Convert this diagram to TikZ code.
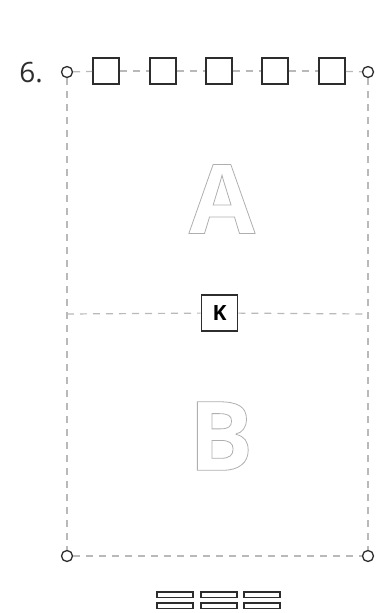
\documentclass[tikz,border=0pt]{standalone}
\usepackage{fontspec}
\setmainfont{Open Sans}
\definecolor{linegray}{RGB}{185,185,185}
\definecolor{boxdark}{RGB}{45,45,45}
\definecolor{lettergray}{RGB}{175,175,175}
\tikzset{
    seat/.style={draw=boxdark, line width=1.6pt, fill=white, minimum size=26pt, inner sep=0pt},
    corner/.style={draw=boxdark, circle, line width=1.3pt, fill=white, minimum size=11pt, inner sep=0pt},
    guide/.style={draw=linegray, line width=1.2pt, dash pattern=on 7pt off 6pt},
    keybox/.style={draw=boxdark, line width=1.6pt, fill=white, minimum size=36pt, inner sep=0pt, font=\fontsize{21}{21}\selectfont\bfseries},
    bigletter/.style={font=\fontsize{96}{96}\selectfont\bfseries, inner sep=0pt, text=lettergray}
}
\newcommand{\hollow}[1]{\special{pdf:literal direct 1 Tr 0.8 w}#1\special{pdf:literal direct 0 Tr}}
\begin{document}
\begin{tikzpicture}[x=1pt, y=-1pt]
\useasboundingbox (0,0) rectangle (382,613);
% corners and label
\node[font=\fontsize{28}{28}\selectfont, text=boxdark] (num) at (31,73) {6.};
\node[corner] (tl) at (67,72) {};
\node[corner] (tr) at (368,72) {};
\node[corner] (bl) at (67,556) {};
\node[corner] (br) at (368,556) {};
\coordinate (ml) at (67,314);
\coordinate (mr) at (368,314);
% seats along the top
\foreach \i/\x in {1/106, 2/163, 3/219, 4/275, 5/332}
    \node[seat] (s\i) at (\x,71) {};
\node[keybox] (key) at (219.5,313) {K};
% guide lines
\draw[guide] (tl) -- (s1);
\foreach \i/\j in {1/2, 2/3, 3/4, 4/5}
    \draw[guide] (s\i) -- (s\j);
\draw[guide] (s5) -- (tr);
\draw[guide] (tl) -- (bl);
\draw[guide] (tr) -- (br);
\draw[guide] (bl) -- (br);
\draw[guide] (ml) -- (key);
\draw[guide] (key) -- (mr);
% halves
\node[bigletter] (halfA) at (222,199) {\hollow{A}};
\node[bigletter] (halfB) at (221,436) {\hollow{B}};
% stacked bars
\foreach \x in {157, 201, 244}
    \foreach \y in {592, 603}
        \draw[boxdark, line width=1.4pt] (\x,\y) rectangle ++(36,5.5);
\end{tikzpicture}
\end{document}
